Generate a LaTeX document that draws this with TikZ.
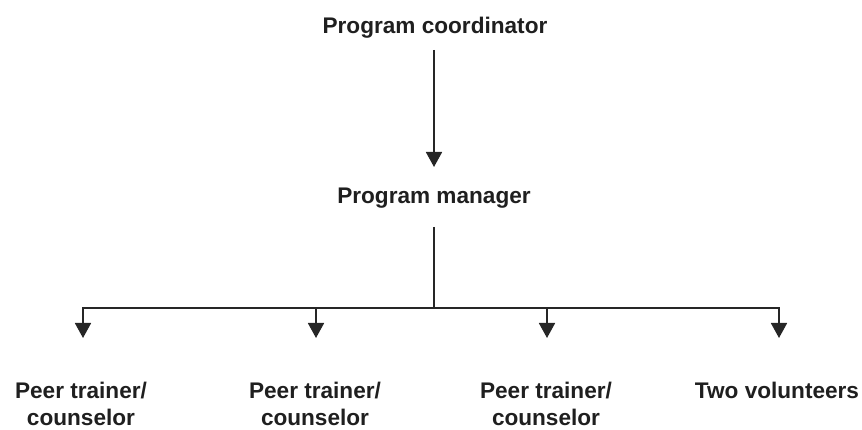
\documentclass[tikz,border=0pt]{standalone}
\usepackage{fontspec}
\setmainfont{Liberation Sans}
\usetikzlibrary{arrows.meta}
\begin{document}
\begin{tikzpicture}[x=1pt,y=1pt,
  lbl/.style={font=\fontsize{22.6}{27}\selectfont\bfseries, text=black!88, inner sep=0pt, text height=16.5pt, text depth=5pt, anchor=base, align=center},
  conn/.style={draw=black!85, line width=1.8pt},
  arr/.style={conn, -{Triangle[length=15pt,width=16pt]}}]
\useasboundingbox (0,0) rectangle (862,-430);
\node[lbl] (coord) at (435,-34) {Program coordinator};
\node[lbl] (mgr) at (434,-204) {Program manager};
\node[lbl] (p1) at (81,-425) {Peer trainer/\\counselor};
\node[lbl] (p2) at (315,-425) {Peer trainer/\\counselor};
\node[lbl] (p3) at (546,-425) {Peer trainer/\\counselor};
\node[lbl] (tv) at (777,-398) {Two volunteers};
\coordinate (top) at (434,-50);
\coordinate (trunk) at (434,-227);
\coordinate (bar) at (434,-308);
\draw[arr] (top) -- (top |- 0,-167);
\draw[conn] (trunk) -- (bar);
\draw[arr] (bar) -| (83,-338);
\draw[arr] (bar) -| (316,-338);
\draw[arr] (bar) -| (547,-338);
\draw[arr] (bar) -| (779,-338);
\end{tikzpicture}
\end{document}
